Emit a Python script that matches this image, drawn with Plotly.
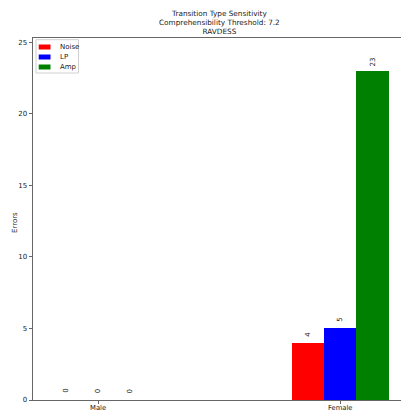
import plotly.graph_objects as go

categories = ["Male", "Female"]
series_names = ["Noise", "LP", "Amp"]
noise = [0, 4]
lp = [0, 5]
amp = [0, 23]
colors = ["#ff0000", "#0000ff", "#008000"]
y_ticks = [0, 5, 10, 15, 20, 25]

series_values = [noise, lp, amp]
bar_w = 0.4 / 3
offsets = [-bar_w, 0, bar_w]
base_x = list(range(len(categories)))

W, H = 401, 412
L, R, T, B = 33, 0, 38, 12
pw, ph = W - L - R, H - T - B

def px_x(p):
    return (p - L) / pw

def px_y(p):
    return 1 - (p - T) / ph

fig = go.Figure()
annotations = []
shapes = []
font_family = "DejaVu Sans"
txt_col = "#222"
for name, vals, col, off in zip(series_names, series_values, colors, offsets):
    xs = [b + off for b in base_x]
    fig.add_trace(go.Bar(x=xs, y=vals, name=name, width=bar_w,
                         marker=dict(color=col, line=dict(width=0)), showlegend=False,
                         hoverinfo="skip"))
    for x, v in zip(xs, vals):
        annotations.append(dict(x=x, y=v, xref="x", yref="y", text=str(v), showarrow=False,
                                textangle=-90, yanchor="middle", xanchor="center", yshift=9,
                                font=dict(family=font_family, size=7, color=txt_col)))

# legend box drawn manually
shapes.append(dict(type="rect", xref="paper", yref="paper",
                   x0=px_x(36), x1=px_x(78.5), y0=px_y(73), y1=px_y(39.7),
                   line=dict(color="#d0d0d0", width=1), fillcolor="white", layer="above"))
for i, (name, col) in enumerate(zip(series_names, colors)):
    cy = 47 + i * 10
    shapes.append(dict(type="rect", xref="paper", yref="paper",
                       x0=px_x(38.7), x1=px_x(50.5), y0=px_y(cy + 2.5), y1=px_y(cy - 2.5),
                       line=dict(width=0), fillcolor=col, layer="above"))
    annotations.append(dict(x=px_x(57.5), y=px_y(cy), xref="paper", yref="paper", text=name,
                            showarrow=False, xanchor="left", yanchor="middle",
                            font=dict(family=font_family, size=7, color=txt_col)))

# y-axis title
annotations.append(dict(x=px_x(15), y=px_y(223), xref="paper", yref="paper", text="Errors",
                        showarrow=False, textangle=-90, xanchor="center", yanchor="middle",
                        font=dict(family=font_family, size=7, color=txt_col)))

fig.update_layout(
    width=W, height=H,
    margin=dict(l=L, r=R, t=T, b=B, autoexpand=False),
    paper_bgcolor="white", plot_bgcolor="white",
    font=dict(family=font_family, size=7, color=txt_col),
    title=dict(text="Transition Type Sensitivity<br>Comprehensibility Threshold: 7.2<br>RAVDESS",
               x=px_x(219.4), xref="paper", xanchor="center", y=1 - 15.5 / H, yref="container",
               yanchor="top", font=dict(family=font_family, size=7.3, color=txt_col)),
    bargap=0, barmode="overlay",
    showlegend=False,
    hovermode=False,
    annotations=annotations,
    shapes=shapes,
    xaxis=dict(range=[-0.269, 1.251], tickvals=base_x, ticktext=categories, automargin=False,
               showline=True, linecolor="#666", linewidth=1, mirror=True,
               ticks="outside", ticklen=3, tickcolor="#666", showgrid=False, zeroline=False,
               ticklabelstandoff=-2,
               tickfont=dict(size=6.8, color=txt_col), fixedrange=True),
    yaxis=dict(range=[0, 25.3], tickvals=y_ticks, showline=True, linecolor="#666", linewidth=1,
               automargin=False,
               ticks="outside", ticklen=3.5, tickcolor="#666", showgrid=False, zeroline=False,
               tickfont=dict(size=7, color=txt_col), fixedrange=True),
)
fig.write_html("out.html", config={"displayModeBar": False, "staticPlot": True},
               post_script="document.body.style.margin='0';")
